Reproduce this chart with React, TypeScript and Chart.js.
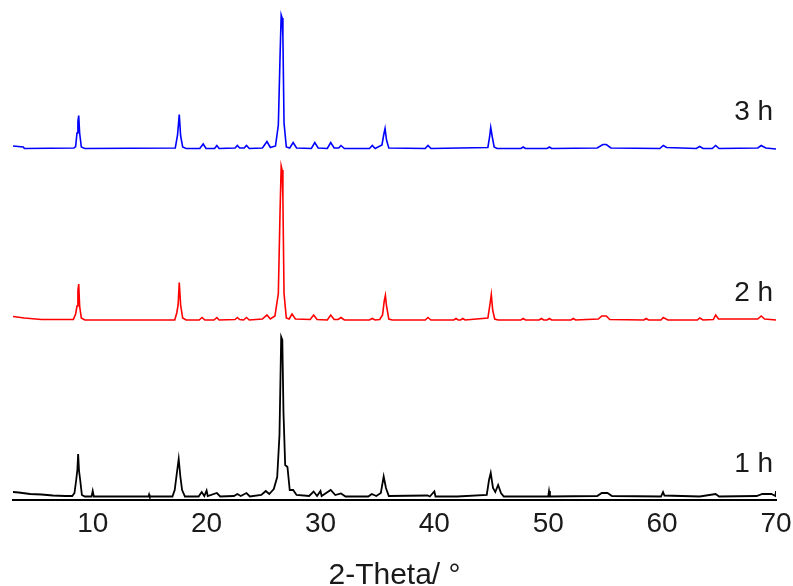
import { useEffect, useRef } from "react";
import { Chart, registerables } from "chart.js";

Chart.register(...registerables);

const FONT = '"Liberation Sans", Arial, Helvetica, sans-serif';

// x-axis ticks (2-Theta, degrees)
const tickValues = [10, 20, 30, 40, 50, 60, 70];

// Series names, colours and vertical stacking offsets (intensity units)
const seriesNames = ["1 h", "2 h", "3 h"];
const seriesColors = ["#000000", "#ff0000", "#0000ff"];
const seriesOffsets = [0, 353, 696];
const labelHeights = [57, 46, 65];
const labelAngle = 69.75;

// 1 h pattern
const angles1h = [
  3.0, 3.5, 4.5, 5.5, 6.5, 7.6, 8.2, 8.4, 8.55, 8.65, 8.72, 8.8, 8.9, 9.05, 9.3, 9.9, 10.0, 10.1,
  12.0, 14.9, 14.95, 15.0, 17.0, 17.2, 17.4, 17.55, 17.7, 17.85, 18.1, 19.3, 19.57, 19.8, 20.0, 20.1,
  20.9, 21.2, 22.4, 22.7, 23.0, 23.5, 23.8, 24.8, 25.2, 25.5, 25.9, 26.2, 26.4, 26.55, 26.65, 26.75,
  26.9, 27.1, 27.3, 27.6, 27.9, 29.0, 29.4, 29.7, 30.0, 30.1, 30.9, 31.3, 31.8, 32.2, 34.2, 34.5,
  34.9, 35.3, 35.55, 35.75, 36.0, 39.4, 39.6, 40.0, 40.1, 42.0, 44.6, 44.8, 44.95, 45.15, 45.35,
  45.6, 45.85, 46.1, 50.0, 50.07, 50.15, 54.3, 54.7, 55.2, 55.6, 59.9, 60.08, 60.2, 63.3, 64.7,
  65.0, 68.3, 68.8, 69.6, 69.95, 70.0,
];
const counts1h = [
  16, 15, 12, 11, 9, 8, 8, 14, 40, 60, 92, 58, 40, 10, 7, 7, 18, 7,
  7, 7, 11, 7, 7, 20, 56, 82, 46, 20, 7, 7, 16, 8, 19, 8,
  14, 7, 8, 12, 8, 14, 7, 10, 18, 12, 22, 46, 130, 326, 320, 176,
  70, 66, 20, 20, 10, 8, 17, 8, 18, 8, 20, 10, 13, 7, 7, 12,
  8, 14, 47, 24, 8, 9, 7, 17, 7, 7, 10, 40, 54, 24, 16,
  30, 14, 7, 7, 18, 7, 8, 14, 14, 8, 7, 16, 9, 7, 12,
  7, 8, 12, 12, 8, 18,
];

// 2 h pattern
const angles2h = [
  3.0, 4.0, 5.5, 8.3, 8.5, 8.62, 8.7, 8.77, 8.85, 9.0, 9.3, 17.2, 17.38, 17.5, 17.6, 17.72, 17.9,
  18.2, 19.35, 19.6, 19.85, 20.65, 20.9, 21.1, 22.5, 22.7, 22.9, 23.25, 23.5, 23.75, 24.9, 25.3,
  25.6, 26.0, 26.3, 26.45, 26.55, 26.63, 26.7, 26.8, 27.0, 27.25, 27.5, 27.8, 29.1, 29.4, 29.7,
  30.6, 30.9, 31.2, 31.55, 31.8, 32.1, 34.3, 34.55, 34.8, 35.2, 35.45, 35.6, 35.7, 35.8, 36.0,
  36.3, 39.2, 39.44, 39.7, 41.7, 41.9, 42.1, 42.3, 42.5, 42.7, 44.7, 44.9, 45.0, 45.12, 45.3,
  45.6, 47.6, 47.8, 48.0, 49.2, 49.4, 49.6, 49.9, 50.1, 50.3, 52.0, 52.2, 52.4, 54.4, 54.7, 55.1,
  55.4, 58.4, 58.6, 58.8, 59.9, 60.1, 60.5, 63.1, 63.3, 63.6, 64.5, 64.7, 64.95, 68.4, 68.7, 69.0,
  70.0,
];
const counts2h = [
  14, 11, 8, 8, 19, 35, 66, 79, 35, 11, 7, 7, 21, 37, 82, 37, 11,
  7, 7, 12, 7, 7, 12, 7, 8, 12, 8, 7, 12, 7, 9, 17,
  9, 15, 60, 224, 315, 307, 250, 60, 11, 9, 19, 9, 8, 17, 8,
  7, 17, 8, 8, 12, 7, 7, 10, 7, 8, 17, 45, 56, 35, 9,
  7, 7, 12, 7, 7, 10, 7, 7, 10, 7, 11, 41, 58, 27, 9,
  7, 7, 10, 7, 7, 10, 7, 7, 10, 7, 7, 10, 7, 9, 15, 15,
  8, 7, 10, 7, 7, 12, 7, 7, 11, 7, 8, 17, 9, 9, 15, 9,
  7,
];

// 3 h pattern
const angles3h = [
  3.0, 3.9, 4.0, 8.35, 8.5, 8.62, 8.7, 8.77, 8.85, 9.0, 9.3, 17.25, 17.45, 17.6, 17.72, 17.9, 18.2,
  19.4, 19.7, 19.95, 20.7, 20.9, 21.1, 22.5, 22.7, 22.9, 23.3, 23.5, 23.75, 24.9, 25.3, 25.6,
  26.05, 26.3, 26.45, 26.55, 26.63, 26.7, 26.8, 27.0, 27.3, 27.6, 27.9, 29.2, 29.5, 29.8, 30.6,
  30.9, 31.2, 31.6, 31.8, 32.1, 34.3, 34.55, 34.8, 35.4, 35.55, 35.67, 35.8, 36.0, 39.2, 39.44,
  39.7, 44.7, 44.85, 44.95, 45.08, 45.25, 45.5, 47.6, 47.8, 48.0, 49.9, 50.1, 50.3, 54.3, 54.8,
  55.1, 55.5, 59.8, 60.1, 60.4, 63.0, 63.3, 63.6, 64.4, 64.7, 65.0, 68.4, 68.7, 69.1, 70.0,
];
const counts3h = [
  12, 10, 7, 8, 11, 38, 61, 73, 38, 10, 7, 8, 34, 75, 32, 10, 7,
  7, 16, 7, 7, 13, 7, 8, 13, 8, 8, 13, 7, 8, 21, 9,
  12, 54, 191, 274, 268, 231, 58, 10, 8, 19, 8, 7, 19, 8, 7,
  19, 8, 8, 13, 7, 7, 13, 7, 14, 34, 47, 24, 8, 7, 13,
  7, 9, 30, 49, 31, 10, 7, 7, 10, 7, 7, 10, 7, 8, 15,
  15, 8, 7, 13, 9, 7, 11, 7, 7, 13, 7, 8, 13, 8, 6,
];

const seriesAngles = [angles1h, angles2h, angles3h];
const seriesCounts = [counts1h, counts2h, counts3h];

const labelPlugin = {
  id: "seriesLabels",
  afterDatasetsDraw(chart: any) {
    const { ctx, scales } = chart;
    const xs = scales.x;
    const ys = scales.y;
    ctx.save();
    ctx.font = `28px ${FONT}`;
    ctx.fillStyle = "#1a1a1a";
    ctx.textAlign = "right";
    ctx.textBaseline = "alphabetic";
    seriesNames.forEach((name, i) => {
      ctx.fillText(
        name,
        xs.getPixelForValue(labelAngle),
        ys.getPixelForValue(seriesOffsets[i] + labelHeights[i])
      );
    });
    ctx.restore();
  },
};

export default function App() {
  const canvasRef = useRef<HTMLCanvasElement | null>(null);

  useEffect(() => {
    const canvas = canvasRef.current;
    if (!canvas) return;
    const datasets = seriesNames.map((name, i) => ({
      label: name,
      data: seriesAngles[i].map((a, j) => ({ x: a, y: seriesCounts[i][j] + seriesOffsets[i] })),
      borderColor: seriesColors[i],
      backgroundColor: seriesColors[i],
      borderWidth: i === 0 ? 1.8 : 1.6,
      pointRadius: 0,
      tension: 0,
      fill: false,
    }));
    const chart = new Chart(canvas, {
      type: "line",
      data: { datasets },
      options: {
        animation: false,
        responsive: false,
        maintainAspectRatio: false,
        layout: { padding: { left: 13, right: 17, top: 0, bottom: 0 } },
        plugins: { legend: { display: false }, tooltip: { enabled: false } },
        scales: {
          x: {
            type: "linear",
            min: 3,
            max: 70,
            afterBuildTicks: (scale: any) => {
              scale.ticks = tickValues.map((v) => ({ value: v }));
            },
            afterFit: (scale: any) => {
              scale.height = 86;
              scale.paddingLeft = 0;
              scale.paddingRight = 0;
            },
            grid: { display: false, drawTicks: false },
            border: { display: true, color: "#000000", width: 2 },
            ticks: {
              font: { size: 28, family: FONT },
              color: "#1a1a1a",
              padding: 7,
              maxRotation: 0,
              autoSkip: false,
            },
            title: {
              display: true,
              text: "2-Theta/ °",
              color: "#1a1a1a",
              font: { size: 30, family: FONT, lineHeight: 0.7 },
              padding: 0,
            },
          },
          y: { display: false, min: 0, max: 1000 },
        },
      },
      plugins: [labelPlugin],
    });
    return () => chart.destroy();
  }, []);

  return (
    <div style={{ position: "fixed", left: 0, top: 0, width: 793, height: 586, background: "#fff" }}>
      <canvas ref={canvasRef} width={793} height={586} style={{ display: "block" }} />
    </div>
  );
}
